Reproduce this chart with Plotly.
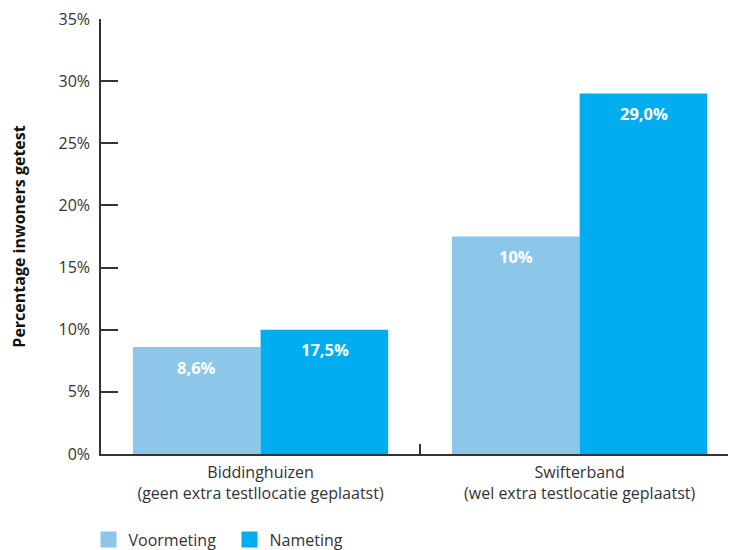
import plotly.graph_objects as go

categories = ["Biddinghuizen<br>(geen extra testllocatie geplaatst)",
              "Swifterband<br>(wel extra testlocatie geplaatst)"]
series_names = ["Voormeting", "Nameting"]
voormeting = [8.6, 17.5]
nameting = [10.0, 29.0]
voormeting_labels = ["8,6%", "10%"]
nameting_labels = ["17,5%", "29,0%"]
y_ticks = [0, 5, 10, 15, 20, 25, 30, 35]
y_tick_labels = ["0%", "5%", "10%", "15%", "20%", "25%", "30%", "35%"]

colors = ["#8CC6E8", "#00AEEF"]
FONT = "Open Sans"
TXT = "#333333"
BAR_PX = 128  # pixel width of one bar (for label placement)

fig = go.Figure()
series = [(series_names[0], voormeting, voormeting_labels, colors[0], -1),
          (series_names[1], nameting, nameting_labels, colors[1], 1)]
for name, vals, labels, col, side in series:
    fig.add_trace(go.Bar(
        x=categories, y=vals, name=name, marker=dict(color=col, line=dict(width=0)),
        showlegend=False, hoverinfo="skip",
    ))
    fig.add_trace(go.Scatter(
        x=[None], y=[None], mode="markers", name=name,
        marker=dict(symbol="square", size=16, color=col),
    ))
    for c, v, lab in zip(categories, vals, labels):
        fig.add_annotation(x=c, y=v, xref="x", yref="y", text="<b>" + lab + "</b>",
                           showarrow=False, xshift=side * BAR_PX / 2, yshift=-20,
                           font=dict(family=FONT, size=16.5, color="white"))

fig.update_layout(
    width=728, height=550,
    margin=dict(l=93, r=0, t=9, b=104),
    plot_bgcolor="white", paper_bgcolor="white",
    barmode="group", bargap=0.2, bargroupgap=0,
    font=dict(family=FONT, size=16, color=TXT),
    legend=dict(orientation="h", x=-0.0197, xanchor="left", y=-0.197, yanchor="middle",
                font=dict(family=FONT, size=16, color=TXT), itemwidth=30,
                entrywidth=96, entrywidthmode="pixels",
                traceorder="normal"),
)
fig.update_xaxes(
    type="category", range=[-0.5, 1.49], showline=True, linecolor=TXT, linewidth=1.5,
    ticks="inside", tickson="boundaries", ticklen=10, tickcolor=TXT, tickwidth=1.5,
    showgrid=False, zeroline=False, ticklabelstandoff=3,
    tickfont=dict(family=FONT, size=16, color=TXT),
)
fig.update_yaxes(
    range=[0, 35], tickvals=y_ticks, ticktext=y_tick_labels,
    showline=True, linecolor=TXT, linewidth=1.5,
    ticks="inside", ticklen=17, tickcolor=TXT, tickwidth=1.5,
    showgrid=False, zeroline=False, ticklabelstandoff=6, ticklabeloverflow="allow",
    tickfont=dict(family=FONT, size=16, color=TXT),
    title=dict(text="<b>Percentage inwoners getest</b>", standoff=33,
               font=dict(family=FONT, size=16, color="#111111")),
)

fig.write_html("out.html")
